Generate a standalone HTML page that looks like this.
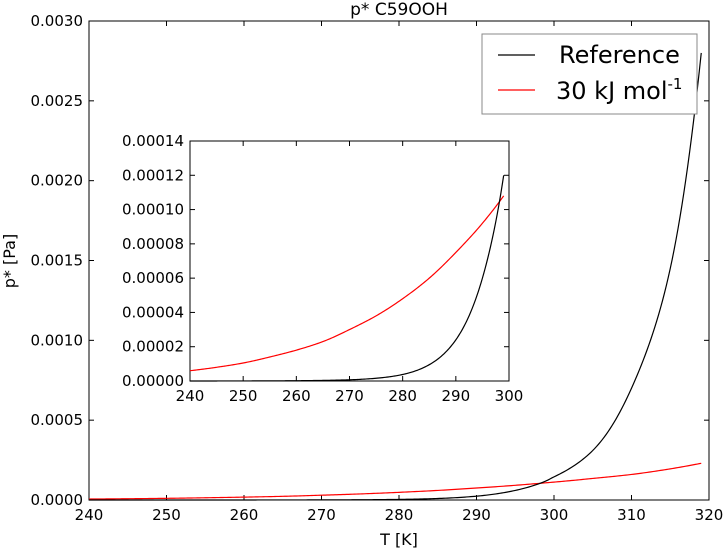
<!DOCTYPE html>
<html><head><meta charset="utf-8"><style>
html,body{margin:0;padding:0;background:#fff;}
svg{display:block;font-family:"DejaVu Sans","Liberation Sans",sans-serif;}
</style></head><body>
<svg id="c" width="723" height="549"></svg>
<script>
const temps=[240,245,250,255,260,265,270,275,280,285,290,295,299,300,305,310,315,319];
const refVals=[1e-8,2e-8,4e-8,8e-8,1.7e-7,3.5e-7,7e-7,1.6e-6,3.8e-6,9.5e-6,2.4e-5,6e-5,1.2e-4,1.45e-4,3.1e-4,7e-4,1.45e-3,2.8e-3];
const kjVals=[6e-6,8e-6,1.05e-5,1.4e-5,1.8e-5,2.3e-5,3e-5,3.8e-5,4.8e-5,6e-5,7.5e-5,9.2e-5,1.08e-4,1.12e-4,1.35e-4,1.6e-4,1.95e-4,2.3e-4];
const mainXTicks=[240,250,260,270,280,290,300,310,320];
const mainYTicks=["0.0000","0.0005","0.0010","0.0015","0.0020","0.0025","0.0030"];
const insetXTicks=[240,250,260,270,280,290,300];
const insetYTicks=["0.00000","0.00002","0.00004","0.00006","0.00008","0.00010","0.00012","0.00014"];
const insetMaxT=299;

const NS="http://www.w3.org/2000/svg";
const svg=document.getElementById('c');
function el(t,a,p){const e=document.createElementNS(NS,t);for(const k in a)e.setAttribute(k,a[k]);(p||svg).appendChild(e);return e;}
function axes(L,R,T,B,x0,x1,y0,y1){return {x:v=>L+(v-x0)/(x1-x0)*(R-L),y:v=>B-(v-y0)/(y1-y0)*(B-T),L,R,T,B};}
// render helper: log-space linear interpolation for smooth exponential-like rendering
function sampleLog(ts,vs,t){for(let i=0;i<ts.length-1;i++){if(t>=ts[i]&&t<=ts[i+1]){const f=(t-ts[i])/(ts[i+1]-ts[i]);
  // cubic hermite in log space with finite-difference slopes
  const lg=v=>Math.log(v);const sl=j=>{const a=Math.max(0,j-1),b=Math.min(ts.length-1,j+1);return (lg(vs[b])-lg(vs[a]))/(ts[b]-ts[a]);};
  const h=ts[i+1]-ts[i],y0=lg(vs[i]),y1=lg(vs[i+1]),m0=sl(i)*h,m1=sl(i+1)*h;
  const f2=f*f,f3=f2*f;return Math.exp((2*f3-3*f2+1)*y0+(f3-2*f2+f)*m0+(-2*f3+3*f2)*y1+(f3-f2)*m1);}}return vs[vs.length-1];}
function drawAxes(a,xt,yt,prefix,fs){
  const g=el('g',{});
  el('rect',{x:a.L,y:a.T,width:a.R-a.L,height:a.B-a.T,fill:'#fff',stroke:'#000','stroke-width':1},g);
  xt.forEach(v=>{const x=a.x(v);el('line',{x1:x,x2:x,y1:a.B,y2:a.B-5,stroke:'#000'},g);el('line',{x1:x,x2:x,y1:a.T,y2:a.T+5,stroke:'#000'},g);
    const t=el('text',{x:x,y:a.B+20,'text-anchor':'middle','font-size':fs},g);t.textContent=v;
    });
  yt.forEach(s=>{const y=a.y(parseFloat(s));el('line',{x1:a.L,x2:a.L+5,y1:y,y2:y,stroke:'#000'},g);el('line',{x1:a.R,x2:a.R-5,y1:y,y2:y,stroke:'#000'},g);
    const t=el('text',{x:a.L-6,y:y+5,'text-anchor':'end','font-size':fs},g);t.textContent=s;
    });
  return g;}
function series(a,vals,maxT,color,name){const ts=[],vs=[];temps.forEach((t,i)=>{if(t<=maxT){ts.push(t);vs.push(vals[i]);}});
  let d="";const t0=ts[0],t1=ts[ts.length-1];
  for(let t=t0;t<=t1+1e-9;t+=0.25){d+=(d?" L":"M")+a.x(t).toFixed(2)+","+a.y(sampleLog(ts,vs,Math.min(t,t1))).toFixed(2);}
  const p=el('path',{d:d,fill:'none',stroke:color,'stroke-width':1.2});
  }

const m=axes(89,709,21,500,240,320,0,0.003);
drawAxes(m,mainXTicks,mainYTicks,'main',15);
series(m,kjVals,319,'#f00','main-30kj-line');
series(m,refVals,319,'#000','main-reference-line');

const ttl=el('text',{x:399,y:15,'text-anchor':'middle','font-size':17});ttl.textContent='p* C59OOH';

const xl=el('text',{x:399,y:545,'text-anchor':'middle','font-size':16});xl.textContent='T [K]';

const yl=el('text',{x:0,y:0,'text-anchor':'middle','font-size':16,transform:'translate(15,261) rotate(-90)'});yl.textContent='p* [Pa]';


const lg=el('g',{});
el('rect',{x:482,y:34,width:215,height:80,fill:'#fff',stroke:'#888'},lg);
el('line',{x1:498,x2:535,y1:55,y2:55,stroke:'#000','stroke-width':1.2},lg);
el('line',{x1:498,x2:535,y1:90,y2:90,stroke:'#f00','stroke-width':1.2},lg);
const l1=el('text',{x:559,y:63,'font-size':24},lg);l1.textContent='Reference';

const l2=el('text',{x:556,y:99,'font-size':24},lg);l2.innerHTML='30 kJ mol<tspan font-size="15" dy="-10">-1</tspan>';


const n=axes(190,509,141,381,240,300,0,0.00014);
drawAxes(n,insetXTicks,insetYTicks,'inset',15);
series(n,kjVals,insetMaxT,'#f00','inset-30kj-line');
series(n,refVals,insetMaxT,'#000','inset-reference-line');
</script>
</body></html>
